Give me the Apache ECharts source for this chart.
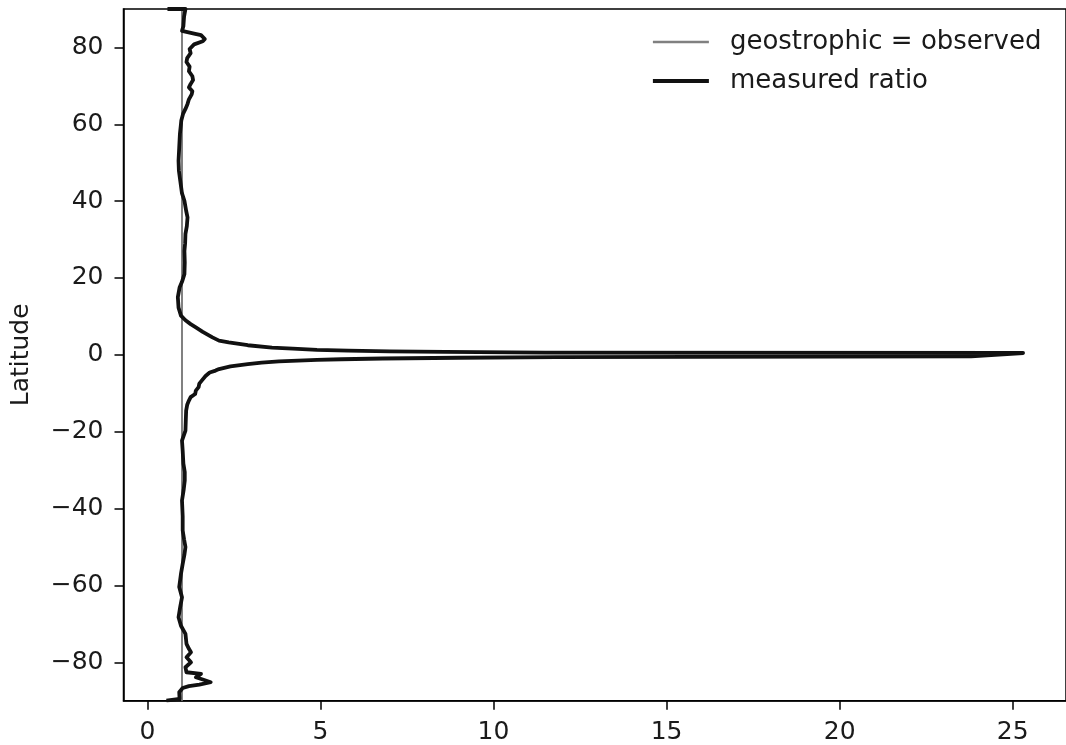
<!DOCTYPE html>
<html><head><meta charset="utf-8">
<script src="https://cdn.jsdelivr.net/npm/echarts@6/dist/echarts.min.js"></script>
<style>html,body{margin:0;padding:0;background:#fff}#c{width:1066px;height:745px}</style>
</head><body><div id="c"></div>
<script>
// measured ratio (geostrophic / observed) by latitude, north to south
const latitudes = [90, 90, 88, 85.5, 84.3, 84.0, 83.6, 83.2, 82.2, 81.6, 80.8, 79.6, 78.5, 77.2, 76.2, 75.0, 73.8, 72.5, 71.5, 70.5, 69.6, 68.6, 67.8, 66.5, 65.3, 64, 62.7, 61, 60, 57.5, 54, 50.5, 48, 45.3, 42, 40.1, 37.5, 35.8, 33.5, 31.5, 29, 27, 24, 21, 19, 17.5, 15, 12.3, 10.2, 9.75, 9.0, 8, 7.15, 6, 4.55, 3.7, 3.25, 2.5, 1.9, 1.6, 1.3, 1.1, 0.9, 0.75, 0.6, 0.48,
  -0.42, -0.58, -0.75, -0.95, -1.15, -1.33, -1.7, -2.0, -2.4, -3.0, -3.7, -4.1, -4.6, -5.5, -6.7, -7.5, -8.4, -8.9, -9.3, -10.2, -11, -11.9, -13, -14.5, -17, -19.7, -22.3, -25, -28.3, -30.5, -32.7, -35, -37.9, -42, -45.7, -48, -50, -52, -54.4, -57, -60.4, -63.1, -65.5, -68.3, -70.5, -72.6, -75.2, -76.5, -77.4, -78.7, -80, -81.3, -82.6, -83, -83.9, -84.5, -85.2, -85.8, -86.2, -86.7, -87.8, -89.5, -90, -90];
const ratios = [0.58, 1.10, 1.06, 1.04, 1.0, 0.97, 1.35, 1.55, 1.66, 1.6, 1.35, 1.22, 1.25, 1.15, 1.13, 1.22, 1.2, 1.3, 1.32, 1.25, 1.2, 1.3, 1.28, 1.2, 1.16, 1.1, 1.03, 0.98, 0.97, 0.94, 0.92, 0.9, 0.91, 0.95, 1.0, 1.07, 1.12, 1.16, 1.14, 1.1, 1.09, 1.07, 1.08, 1.07, 1.0, 0.93, 0.88, 0.9, 0.97, 1.02, 1.1, 1.25, 1.4, 1.6, 1.88, 2.07, 2.35, 2.9, 3.6, 4.2, 4.9, 5.8, 7.0, 8.6, 11.5, 25.3,
  23.8, 11.8, 9.0, 6.8, 5.6, 4.9, 3.8, 3.3, 2.9, 2.4, 2.07, 1.97, 1.8, 1.68, 1.57, 1.5, 1.48, 1.45, 1.4, 1.38, 1.25, 1.2, 1.15, 1.12, 1.11, 1.1, 1.0, 1.02, 1.04, 1.08, 1.08, 1.05, 1.0, 1.02, 1.02, 1.06, 1.1, 1.07, 1.02, 0.97, 0.92, 1.0, 0.95, 0.9, 0.97, 1.1, 1.13, 1.2, 1.26, 1.13, 1.26, 1.1, 1.13, 1.55, 1.4, 1.6, 1.83, 1.5, 1.2, 1.02, 0.92, 0.93, 0.9, 0.55];
// reference line: geostrophic = observed
const geoLatitudes = [-90, 90];
const geoRatios = [1, 1];
const xTicks = [0, 5, 10, 15, 20, 25];
const yTicks = [-80, -60, -40, -20, 0, 20, 40, 60, 80];

const FONT = 'DejaVu Sans';
const minus = v => String(v).replace('-', '\u2212');
const chart = echarts.init(document.getElementById('c'), null, {renderer: 'canvas'});
chart.setOption({
  animation: false,
  backgroundColor: '#fff',
  textStyle: {fontFamily: FONT},
  grid: {left: 123.5, right: -9, top: 9, bottom: 44.3, show: true, borderColor: '#000', borderWidth: 1.5, backgroundColor: 'transparent'},
  legend: {
    orient: 'vertical', left: 651, top: 29, padding: 0,
    itemWidth: 56, itemHeight: 26, itemGap: 13,
    itemStyle: {opacity: 0, color: 'transparent', borderWidth: 0},
    textStyle: {fontFamily: FONT, fontSize: 26, color: '#1a1a1a', padding: [0, 0, 0, 16]},
    data: [
      {name: 'geostrophic = observed', lineStyle: {color: '#808080', width: 2.5}},
      {name: 'measured ratio', lineStyle: {color: '#111', width: 3.8}}
    ]
  },
  xAxis: {
    type: 'value', min: -0.69, max: 26.54,
    splitLine: {show: false},
    axisLine: {show: true, onZero: false, lineStyle: {color: '#000', width: 1.5}},
    axisTick: {show: true, length: 9, customValues: xTicks, lineStyle: {color: '#000', width: 1.5}},
    axisLabel: {customValues: xTicks, margin: 19, fontSize: 25, fontFamily: FONT, color: '#1a1a1a', formatter: minus}
  },
  yAxis: {
    type: 'value', min: -90, max: 90,
    name: 'Latitude', nameLocation: 'middle', nameGap: 90,
    nameTextStyle: {fontSize: 25, fontFamily: FONT, color: '#1a1a1a'},
    splitLine: {show: false},
    axisLine: {show: true, onZero: false, lineStyle: {color: '#000', width: 1.5}},
    axisTick: {show: true, length: 9, customValues: yTicks, lineStyle: {color: '#000', width: 1.5}},
    axisLabel: {customValues: yTicks, margin: 20, fontSize: 25, fontFamily: FONT, color: '#1a1a1a', formatter: minus}
  },
  series: [
    {
      name: 'geostrophic = observed', type: 'line', symbol: 'none', z: 2,
      color: '#808080',
      lineStyle: {color: '#808080', width: 2},
      data: geoLatitudes.map((lat, i) => [geoRatios[i], lat])
    },
    {
      name: 'measured ratio', type: 'line', symbol: 'none', z: 3,
      color: '#111',
      lineStyle: {color: '#111', width: 3.8, join: 'round'},
      data: latitudes.map((lat, i) => [ratios[i], lat])
    }
  ]
});
</script></body></html>
